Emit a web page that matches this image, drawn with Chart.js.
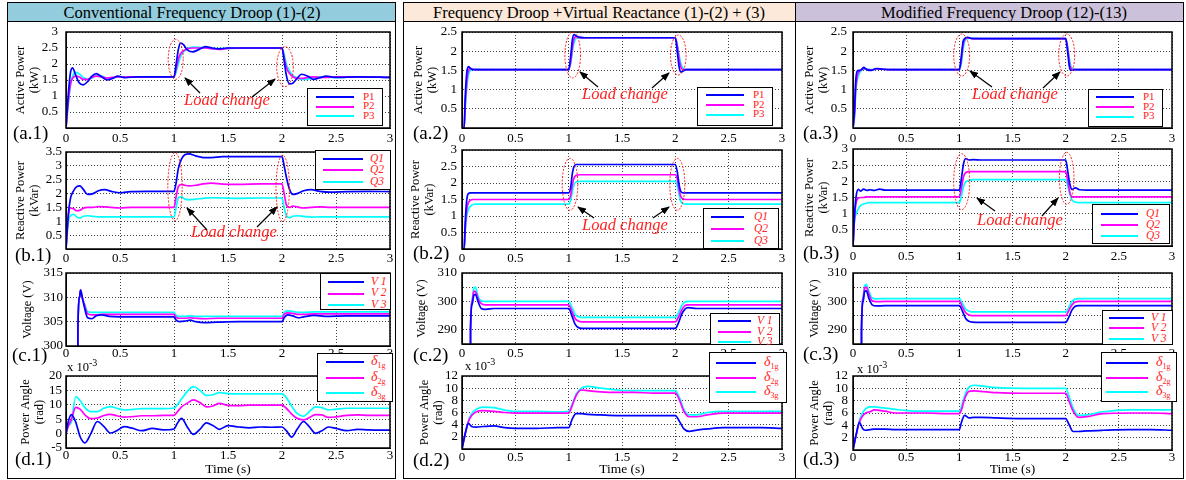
<!DOCTYPE html>
<html>
<head>
<meta charset="utf-8">
<script src="https://cdn.jsdelivr.net/npm/chart.js@4.4.1/dist/chart.umd.min.js"></script>
<style>
body { margin: 0; background: #fff; }
#page { position: relative; width: 1186px; height: 480px; overflow: hidden; font-family: "Liberation Serif", "Times New Roman", serif; color: #000; }
.frame { position: absolute; border: 1.5px solid #000; box-sizing: border-box; }
.head { position: absolute; border: 1.5px solid #000; box-sizing: border-box; }
.htxt { position: absolute; font-size: 16.5px; line-height: 1; white-space: nowrap; transform: translateX(-50%); }
.plab { position: absolute; font-size: 19px; line-height: 1; white-space: nowrap; z-index: 2; }
.legend { position: absolute; border: 1px solid #000; background: #fff; box-sizing: border-box; z-index: 3; }
.lline { position: absolute; height: 2px; }
.ltxt { position: absolute; color: #f22; line-height: 1; white-space: nowrap; }
.load { position: absolute; color: #f22; font-style: italic; font-size: 16.5px; line-height: 1; white-space: nowrap; z-index: 3; }
.exp { position: absolute; font-size: 12.5px; line-height: 1; white-space: nowrap; z-index: 3; }
canvas { position: absolute; z-index: 1; }
svg { position: absolute; left: 0; top: 0; z-index: 4; }
</style>
</head>
<body>
<div id="page"></div>
<script>
// tick values shared by every panel
const timeTicks = [0, 0.5, 1, 1.5, 2, 2.5, 3];
const timeLabels = ["0", "0.5", "1", "1.5", "2", "2.5", "3"];

// ---- column 1: conventional droop ----
const a1Time = [0, 0.02, 0.04, 0.06, 0.09, 0.12, 0.16, 0.2, 0.24, 0.28, 0.33, 0.38, 0.43, 0.48, 0.55, 0.65, 0.8, 1.0, 1.02, 1.04, 1.06, 1.09, 1.12, 1.17, 1.23, 1.29, 1.35, 1.42, 1.5, 1.7, 2.0, 2.02, 2.04, 2.07, 2.1, 2.14, 2.18, 2.24, 2.29, 2.35, 2.41, 2.5, 2.7, 3.0];
const a1P1 = [0, 1.0, 1.7, 1.88, 1.65, 1.42, 1.35, 1.45, 1.62, 1.70, 1.6, 1.5, 1.55, 1.62, 1.57, 1.6, 1.6, 1.6, 2.0, 2.45, 2.65, 2.6, 2.45, 2.38, 2.45, 2.54, 2.5, 2.47, 2.5, 2.5, 2.5, 2.1, 1.65, 1.38, 1.4, 1.55, 1.68, 1.62, 1.52, 1.57, 1.62, 1.58, 1.6, 1.58];
const a1P2 = [0, 0.8, 1.35, 1.55, 1.62, 1.6, 1.52, 1.52, 1.58, 1.62, 1.6, 1.56, 1.58, 1.6, 1.59, 1.6, 1.6, 1.6, 1.85, 2.15, 2.32, 2.42, 2.47, 2.5, 2.5, 2.5, 2.48, 2.46, 2.49, 2.5, 2.5, 2.2, 1.9, 1.7, 1.6, 1.55, 1.55, 1.58, 1.6, 1.58, 1.58, 1.6, 1.6, 1.58];
const a1P3 = [0, 0.7, 1.3, 1.6, 1.74, 1.7, 1.58, 1.52, 1.56, 1.64, 1.62, 1.56, 1.56, 1.6, 1.6, 1.6, 1.6, 1.6, 1.75, 2.0, 2.22, 2.38, 2.48, 2.53, 2.52, 2.5, 2.48, 2.48, 2.49, 2.5, 2.5, 2.3, 2.0, 1.78, 1.65, 1.56, 1.52, 1.53, 1.57, 1.6, 1.59, 1.58, 1.6, 1.58];
const a1Ticks = [0, 0.5, 1, 1.5, 2, 2.5, 3];
const a1Labels = ["", "0.5", "1", "1.5", "2", "2.5", "3"];

const b1Time = [0, 0.02, 0.04, 0.07, 0.1, 0.13, 0.16, 0.2, 0.25, 0.3, 0.36, 0.42, 0.5, 0.6, 0.75, 1.0, 1.02, 1.04, 1.07, 1.1, 1.14, 1.2, 1.27, 1.35, 1.45, 1.6, 1.8, 2.0, 2.02, 2.04, 2.07, 2.1, 2.14, 2.2, 2.27, 2.35, 2.45, 2.6, 2.8, 3.0];
const b1Q1 = [0, 1.2, 1.8, 2.1, 2.25, 2.28, 2.15, 1.97, 2.0, 2.1, 2.14, 2.08, 2.03, 2.07, 2.08, 2.08, 2.4, 2.9, 3.25, 3.4, 3.43, 3.36, 3.3, 3.3, 3.33, 3.33, 3.33, 3.33, 3.0, 2.6, 2.15, 1.97, 2.0, 2.1, 2.14, 2.08, 2.05, 2.07, 2.08, 2.07];
const b1Q2 = [0, 1.1, 1.48, 1.45, 1.38, 1.4, 1.47, 1.5, 1.5, 1.53, 1.52, 1.5, 1.48, 1.5, 1.5, 1.5, 1.9, 2.25, 2.33, 2.3, 2.28, 2.3, 2.35, 2.38, 2.34, 2.33, 2.35, 2.35, 2.0, 1.6, 1.5, 1.55, 1.52, 1.48, 1.5, 1.52, 1.5, 1.5, 1.5, 1.5];
const b1Q3 = [0, 0.9, 1.2, 1.25, 1.15, 1.12, 1.18, 1.2, 1.18, 1.16, 1.16, 1.16, 1.16, 1.16, 1.16, 1.16, 1.5, 1.85, 1.88, 1.8, 1.78, 1.8, 1.83, 1.85, 1.84, 1.83, 1.84, 1.84, 1.5, 1.2, 1.13, 1.18, 1.2, 1.18, 1.15, 1.16, 1.16, 1.16, 1.16, 1.16];
const b1Ticks = [0, 0.5, 1, 1.5, 2, 2.5, 3, 3.5];
const b1Labels = ["", "0.5", "1", "1.5", "2", "2.5", "3", "3.5"];

const c1Time = [0, 0.1, 0.11, 0.125, 0.135, 0.15, 0.17, 0.2, 0.24, 0.28, 0.33, 0.4, 0.5, 0.7, 1.0, 1.02, 1.05, 1.1, 1.15, 1.2, 1.28, 1.4, 1.6, 1.8, 2.0, 2.02, 2.05, 2.1, 2.15, 2.2, 2.3, 2.4, 2.6, 2.8, 3.0];
const c1V1 = [0, 0, 303, 310, 311.5, 310, 308, 305.8, 305.6, 306.2, 306.4, 306.1, 306, 306, 306, 305.3, 305, 305.1, 305.3, 305, 304.8, 304.9, 305, 305, 305, 305.8, 306.4, 306.2, 305.8, 306, 306.3, 306.1, 306.2, 306.2, 306.2];
const c1V2 = [0, 0, 303, 310, 311.5, 310, 308.5, 306.6, 306.4, 306.4, 306.5, 306.5, 306.5, 306.5, 306.5, 305.9, 305.7, 305.7, 305.8, 305.7, 305.6, 305.7, 305.7, 305.7, 305.7, 306.5, 306.8, 306.7, 306.5, 306.5, 306.6, 306.6, 306.6, 306.6, 306.6];
const c1V3 = [0, 0, 303, 310, 311.5, 310, 308.7, 307.1, 306.9, 306.9, 306.9, 306.9, 306.9, 306.9, 306.9, 306.3, 306.1, 306.1, 306.2, 306.1, 306.1, 306.1, 306.1, 306.1, 306.1, 306.9, 307.2, 307.1, 306.9, 306.9, 307, 307, 307, 307, 307];
const c1Ticks = [300, 305, 310, 315];
const c1Labels = ["300", "305", "310", "315"];

const d1Time = [0, 0.02, 0.05, 0.09, 0.13, 0.175, 0.23, 0.29, 0.35, 0.41, 0.47, 0.54, 0.62, 0.7, 0.8, 0.9, 1.0, 1.03, 1.07, 1.12, 1.18, 1.24, 1.3, 1.36, 1.42, 1.5, 1.6, 1.7, 1.8, 1.9, 2.0, 2.04, 2.09, 2.14, 2.2, 2.25, 2.31, 2.37, 2.43, 2.5, 2.6, 2.7, 2.8, 2.9, 3.0];
const d1D1 = [0, 4, 6.6, 4, -1, -3.2, 0, 4.2, 2.5, 0.2, 1, 2.4, 1.8, 1, 1.8, 1.3, 1.6, 3.5, 5.3, 2.5, -0.3, 1.5, 3.7, 2.8, 1.5, 2.8, 2.3, 2.0, 2.3, 2.2, 2.3, 1, -1.2, 1.5, 4.2, 2.5, 0.1, 1, 2.3, 1.8, 1, 1.5, 1.3, 1.2, 1.2];
const d1D2 = [0, 2.5, 5, 9.1, 8.5, 6.5, 5.2, 5.4, 6.3, 6.7, 6.2, 5.7, 5.9, 6.2, 6.2, 6.3, 6.3, 7.5, 9.3, 10.5, 11.7, 10.8, 9.3, 9.6, 10.5, 9.8, 9.7, 9.9, 9.9, 9.9, 9.9, 8.8, 6.8, 5.3, 4.8, 5.5, 6.6, 6.5, 5.6, 5.8, 6.3, 6.5, 6.3, 6.3, 6.3];
const d1D3 = [0, 2.5, 4, 12.8, 11.5, 9, 7.6, 7.6, 8.8, 9.4, 8.8, 8.2, 8.4, 8.7, 8.7, 8.7, 8.8, 10, 12, 14.5, 16.3, 15, 13.3, 13.5, 14.2, 13.9, 13.8, 13.8, 13.8, 13.8, 13.8, 12.5, 9.5, 7, 6, 7.5, 9.3, 9, 8.2, 8.5, 8.8, 8.8, 8.8, 8.8, 8.8];
const d1Ticks = [-5, 0, 5, 10, 15, 20];
const d1Labels = ["-5", "0", "5", "10", "15", "20"];

// ---- column 2: droop + virtual reactance ----
const a2Time = [0, 0.02, 0.03, 0.045, 0.06, 0.08, 0.1, 0.13, 0.2, 0.4, 0.7, 1.0, 1.02, 1.035, 1.05, 1.07, 1.1, 1.15, 1.3, 1.6, 2.0, 2.02, 2.035, 2.05, 2.07, 2.1, 2.15, 2.3, 2.6, 3.0];
const a2P1 = [0, 0, 0.8, 1.45, 1.6, 1.55, 1.52, 1.52, 1.52, 1.52, 1.52, 1.52, 1.9, 2.3, 2.43, 2.4, 2.36, 2.35, 2.35, 2.35, 2.35, 1.95, 1.6, 1.46, 1.48, 1.52, 1.52, 1.52, 1.52, 1.52];
const a2P2 = [0, 0, 0.6, 1.2, 1.5, 1.55, 1.53, 1.52, 1.52, 1.52, 1.52, 1.52, 1.75, 2.1, 2.32, 2.38, 2.36, 2.35, 2.35, 2.35, 2.35, 2.1, 1.8, 1.6, 1.52, 1.52, 1.52, 1.52, 1.52, 1.52];
const a2P3 = [0, 0, 0.5, 1.05, 1.38, 1.5, 1.53, 1.53, 1.52, 1.52, 1.52, 1.52, 1.7, 2.0, 2.22, 2.33, 2.36, 2.35, 2.35, 2.35, 2.35, 2.15, 1.9, 1.7, 1.56, 1.52, 1.52, 1.52, 1.52, 1.52];
const a2Ticks = [0, 0.5, 1, 1.5, 2, 2.5];
const a2Labels = ["", "0.5", "1", "1.5", "2", "2.5"];

const b2Time = [0, 0.02, 0.03, 0.045, 0.06, 0.08, 0.1, 0.13, 0.2, 0.5, 1.0, 1.02, 1.035, 1.05, 1.07, 1.1, 1.15, 1.3, 2.0, 2.02, 2.035, 2.05, 2.07, 2.1, 2.15, 2.3, 3.0];
const b2Q1 = [0, 0, 0.8, 1.5, 1.68, 1.7, 1.7, 1.7, 1.7, 1.7, 1.7, 1.9, 2.3, 2.5, 2.56, 2.56, 2.56, 2.56, 2.56, 2.3, 1.95, 1.75, 1.7, 1.7, 1.7, 1.7, 1.7];
const b2Q2 = [0, 0, 0.6, 1.2, 1.4, 1.48, 1.5, 1.5, 1.5, 1.5, 1.5, 1.65, 1.95, 2.15, 2.23, 2.25, 2.25, 2.25, 2.25, 2.1, 1.8, 1.6, 1.52, 1.5, 1.5, 1.5, 1.5];
const b2Q3 = [0, 0, 0.5, 1.0, 1.2, 1.3, 1.35, 1.36, 1.36, 1.36, 1.36, 1.5, 1.75, 1.95, 2.03, 2.05, 2.05, 2.05, 2.05, 1.9, 1.65, 1.45, 1.38, 1.36, 1.36, 1.36, 1.36];
const b2Ticks = [0, 0.5, 1, 1.5, 2, 2.5, 3];
const b2Labels = ["", "0.5", "1", "1.5", "2", "2.5", "3"];

const c2Time = [0, 0.07, 0.08, 0.095, 0.11, 0.125, 0.15, 0.18, 0.22, 0.3, 0.5, 1.0, 1.03, 1.06, 1.09, 1.12, 1.2, 1.5, 2.0, 2.03, 2.06, 2.09, 2.12, 2.2, 2.5, 3.0];
const c2V1 = [0, 0, 290, 299, 302, 302.5, 300, 297.5, 297.2, 297.5, 297.5, 297.5, 295, 292, 290.8, 290.5, 290.5, 290.5, 290.5, 292.5, 295.5, 297.3, 297.8, 297.5, 297.5, 297.5];
const c2V2 = [0, 0, 290, 300, 303.5, 303.5, 301, 299.2, 298.8, 298.8, 298.8, 298.8, 296.5, 294, 293.1, 292.8, 292.8, 292.8, 292.8, 294.5, 297, 298.5, 298.8, 298.8, 298.8, 298.8];
const c2V3 = [0, 0, 290, 300.5, 304.5, 305, 302, 300.2, 300, 300, 300, 300, 298, 295.5, 294.6, 294.4, 294.4, 294.4, 294.4, 296, 298.5, 299.8, 300, 300, 300, 300];
const c2Ticks = [285, 290, 295, 300, 305, 310];
const c2Labels = ["", "290", "", "300", "", "310"];

const d2Time = [0, 0.03, 0.06, 0.09, 0.13, 0.2, 0.3, 0.4, 0.5, 0.7, 0.9, 1.0, 1.03, 1.07, 1.12, 1.18, 1.3, 1.45, 1.6, 1.8, 2.0, 2.04, 2.08, 2.13, 2.2, 2.3, 2.45, 2.6, 2.8, 3.0];
const d2D1 = [0, 2.5, 4.2, 3.7, 3.6, 3.7, 3.8, 3.5, 3.4, 3.4, 3.5, 3.5, 4.8, 5.8, 5.8, 5.7, 5.6, 5.5, 5.5, 5.5, 5.5, 4.5, 3.3, 2.9, 3.1, 3.3, 3.5, 3.5, 3.5, 3.4];
const d2D2 = [0, 2.5, 4.5, 5.5, 6.1, 6.3, 6.2, 6.0, 5.9, 5.9, 5.9, 5.9, 7, 8.8, 9.7, 9.6, 9.4, 9.3, 9.3, 9.2, 9.2, 8, 6.2, 5.3, 5.3, 5.6, 5.9, 5.9, 5.9, 5.9];
const d2D3 = [0, 2.5, 4.6, 5.8, 6.5, 6.9, 6.8, 6.4, 6.2, 6.2, 6.1, 6.2, 7.2, 9.0, 10.0, 10.3, 10.0, 9.7, 9.6, 9.6, 9.6, 8.4, 6.5, 5.6, 5.6, 6.0, 6.2, 6.2, 6.2, 6.2];
const d2Ticks = [0, 2, 4, 6, 8, 10, 12];
const d2Labels = ["", "2", "4", "6", "8", "10", "12"];

// ---- column 3: modified droop ----
const a3Time = [0, 0.015, 0.025, 0.04, 0.06, 0.08, 0.1, 0.13, 0.17, 0.22, 0.28, 0.35, 0.5, 1.0, 1.02, 1.035, 1.05, 1.08, 1.12, 1.2, 1.5, 2.0, 2.02, 2.035, 2.05, 2.08, 2.12, 2.2, 2.5, 3.0];
const a3P1 = [0, 0.5, 1.2, 1.48, 1.5, 1.52, 1.58, 1.52, 1.5, 1.55, 1.53, 1.52, 1.52, 1.52, 1.9, 2.25, 2.33, 2.36, 2.33, 2.33, 2.33, 2.33, 1.95, 1.6, 1.5, 1.52, 1.52, 1.52, 1.52, 1.52];
const a3P2 = [0, 0.4, 1.0, 1.35, 1.48, 1.52, 1.55, 1.53, 1.51, 1.54, 1.53, 1.52, 1.52, 1.52, 1.8, 2.15, 2.3, 2.35, 2.33, 2.33, 2.33, 2.33, 2.05, 1.7, 1.55, 1.52, 1.52, 1.52, 1.52, 1.52];
const a3P3 = [0, 0.3, 0.9, 1.25, 1.42, 1.5, 1.53, 1.53, 1.52, 1.53, 1.53, 1.52, 1.52, 1.52, 1.7, 2.05, 2.25, 2.33, 2.34, 2.33, 2.33, 2.33, 2.1, 1.8, 1.6, 1.53, 1.52, 1.52, 1.52, 1.52];
const a3Ticks = [0, 0.5, 1, 1.5, 2, 2.5];
const a3Labels = ["", "0.5", "1", "1.5", "2", "2.5"];

const b3Time = [0, 0.015, 0.03, 0.05, 0.07, 0.1, 0.13, 0.16, 0.2, 0.25, 0.3, 0.4, 0.6, 1.0, 1.02, 1.04, 1.06, 1.09, 1.13, 1.2, 1.5, 2.0, 2.02, 2.04, 2.06, 2.09, 2.13, 2.2, 2.5, 3.0];
const b3Q1 = [0, 1.0, 1.55, 1.75, 1.7, 1.76, 1.72, 1.74, 1.72, 1.76, 1.73, 1.73, 1.73, 1.73, 2.1, 2.55, 2.7, 2.66, 2.67, 2.66, 2.66, 2.66, 2.3, 1.9, 1.75, 1.8, 1.74, 1.73, 1.73, 1.73];
const b3Q2 = [0, 0.9, 1.35, 1.48, 1.5, 1.5, 1.52, 1.52, 1.52, 1.52, 1.52, 1.52, 1.52, 1.52, 1.8, 2.15, 2.27, 2.3, 2.3, 2.3, 2.3, 2.3, 2.0, 1.65, 1.52, 1.52, 1.52, 1.52, 1.52, 1.52];
const b3Q3 = [0, 0.8, 1.0, 1.15, 1.25, 1.3, 1.33, 1.34, 1.34, 1.34, 1.34, 1.34, 1.34, 1.34, 1.55, 1.85, 1.98, 2.03, 2.05, 2.05, 2.05, 2.05, 1.85, 1.6, 1.42, 1.36, 1.34, 1.34, 1.34, 1.34];
const b3Ticks = [0, 0.5, 1, 1.5, 2, 2.5, 3];
const b3Labels = ["", "0.5", "1", "1.5", "2", "2.5", "3"];

const c3Time = [0, 0.07, 0.08, 0.095, 0.11, 0.125, 0.15, 0.18, 0.22, 0.3, 0.5, 1.0, 1.03, 1.06, 1.09, 1.12, 1.2, 1.5, 2.0, 2.03, 2.06, 2.09, 2.12, 2.2, 2.5, 3.0];
const c3V1 = [0, 0, 290, 300, 303.5, 303.7, 301, 298.8, 298.4, 298.5, 298.5, 298.5, 296.5, 294, 293, 292.7, 292.6, 292.6, 292.6, 294.5, 297, 298.3, 298.5, 298.5, 298.5, 298.5];
const c3V2 = [0, 0, 290, 301, 304.7, 305, 302.5, 300.2, 299.9, 300, 300, 300, 298, 296, 295.2, 295, 295, 295, 295, 296.8, 298.8, 299.8, 300, 300, 300, 300];
const c3V3 = [0, 0, 290, 301.5, 305.5, 306, 303.5, 301.2, 300.9, 301, 301, 301, 299.3, 297.3, 296.5, 296.3, 296.3, 296.3, 296.3, 298, 300, 300.8, 301, 301, 301, 301];
const c3Ticks = [285, 290, 295, 300, 305, 310];
const c3Labels = ["", "290", "", "300", "", "310"];

const d3Time = [0, 0.03, 0.06, 0.09, 0.12, 0.16, 0.2, 0.3, 0.4, 0.5, 0.7, 0.9, 1.0, 1.02, 1.05, 1.09, 1.14, 1.2, 1.35, 1.6, 1.8, 2.0, 2.03, 2.07, 2.12, 2.2, 2.35, 2.6, 2.8, 3.0];
const d3D1 = [0, 2.5, 4.5, 3.5, 3.2, 3.3, 3.4, 3.4, 3.3, 3.3, 3.3, 3.3, 3.3, 4.5, 5.6, 5.2, 5.3, 5.3, 5.2, 5.1, 5.1, 5.1, 4.2, 3.0, 3.0, 3.1, 3.2, 3.3, 3.3, 3.2];
const d3D2 = [0, 2.5, 4.5, 5.5, 6.0, 6.2, 6.5, 6.3, 6.0, 6.0, 6.0, 5.9, 5.9, 6.5, 8.3, 9.5, 9.6, 9.5, 9.3, 9.2, 9.2, 9.2, 8.0, 6.3, 5.3, 5.4, 5.9, 6.0, 6.0, 5.9];
const d3D3 = [0, 2.5, 4.8, 6.0, 6.7, 7.0, 7.0, 6.8, 6.6, 6.4, 6.3, 6.3, 6.3, 7.0, 8.8, 10.2, 10.5, 10.4, 10.1, 10.0, 10.0, 10.0, 8.8, 6.8, 5.6, 5.7, 6.2, 6.5, 6.5, 6.5];
const d3Ticks = [0, 2, 4, 6, 8, 10, 12];
const d3Labels = ["", "2", "4", "6", "8", "10", "12"];

const powerNames = ["P1", "P2", "P3"];
const reactiveNames = ["Q1", "Q2", "Q3"];
const voltageNames = ["V 1", "V 2", "V 3"];
const angleNames = ["1g", "2g", "3g"];

const COLORS = ["#0000ff", "#ff00ff", "#00ffff"];
const SERIF = '"Liberation Serif", "Times New Roman", serif';
const page = document.getElementById("page");

function addEl(cls, css, html) {
    const el = document.createElement("div");
    el.className = cls;
    el.style.cssText = css;
    if (html) el.innerHTML = html;
    page.appendChild(el);
    return el;
}

// column frames and headers
addEl("frame", "left:7px;top:2px;width:389px;height:477px");
addEl("frame", "left:403px;top:2px;width:393px;height:477px");
addEl("frame", "left:795px;top:2px;width:389px;height:477px");
addEl("head", "left:7px;top:2px;width:389px;height:20px;background:#93cddd");
addEl("head", "left:403px;top:2px;width:393px;height:20px;background:#fde9d9");
addEl("head", "left:795px;top:2px;width:389px;height:20px;background:#ccc1da");
addEl("htxt", "left:192px;top:4.5px", "Conventional Frequency Droop (1)-(2)");
addEl("htxt", "left:599px;top:4.5px", "Frequency Droop +Virtual Reactance (1)-(2) + (3)");
addEl("htxt", "left:1004px;top:4.5px", "Modified Frequency Droop (12)-(13)");

// frame around each plot area
const boxPlugin = {
    id: "box",
    afterDraw(chart) {
        const { ctx, chartArea: a } = chart;
        ctx.save();
        ctx.strokeStyle = "#000";
        ctx.lineWidth = 1.5;
        ctx.strokeRect(a.left, a.top, a.right - a.left, a.bottom - a.top);
        ctx.restore();
    }
};

function makePanel(p) {
    const padL = 62, padR = 10, padT = 8;
    const W = p.R - p.L + padL + padR;
    const H = p.B - p.T + padT + p.padB;
    const cv = document.createElement("canvas");
    cv.width = W;
    cv.height = H;
    cv.style.cssText = `left:${p.L - padL}px;top:${p.T - padT}px;width:${W}px;height:${H}px`;
    page.appendChild(cv);

    const lh = 14;
    const titlePad = p.tx - (p.L - padL) - lh / 2;
    const gridOpts = { color: "rgba(0,0,0,0.75)", lineWidth: 1, drawTicks: false };
    const borderOpts = { display: true, color: "#000", width: 1, dash: [1, 2] };
    const tickFont = { family: SERIF, size: 13 };

    new Chart(cv, {
        type: "line",
        data: {
            datasets: p.s.map((vals, i) => ({
                label: p.names[i],
                data: p.t.map((x, j) => ({ x: x, y: vals[j] })),
                borderColor: COLORS[i],
                borderWidth: 1.7,
                pointRadius: 0,
                fill: false,
                cubicInterpolationMode: "monotone"
            }))
        },
        options: {
            responsive: false,
            animation: false,
            devicePixelRatio: 1,
            layout: { padding: { left: 0, top: padT, right: padR, bottom: 0 } },
            plugins: { legend: { display: false }, tooltip: { enabled: false } },
            scales: {
                x: {
                    type: "linear",
                    min: timeTicks[0],
                    max: timeTicks[timeTicks.length - 1],
                    afterBuildTicks: s => { s.ticks = timeTicks.map(v => ({ value: v })); },
                    afterFit: s => { s.height = p.padB; s.paddingLeft = 0; s.paddingRight = 0; },
                    ticks: { callback: (v, i) => timeLabels[i], padding: p.xPad, color: "#000", font: tickFont, maxRotation: 0, autoSkip: false },
                    grid: gridOpts,
                    border: borderOpts,
                    title: p.xTitle
                        ? { display: true, text: "Time (s)", color: "#000", padding: { top: 0, bottom: 0.5 }, font: { family: SERIF, size: 13.5, lineHeight: 1.15 } }
                        : { display: false }
                },
                y: {
                    type: "linear",
                    min: p.yt[0],
                    max: p.yt[p.yt.length - 1],
                    afterBuildTicks: s => { s.ticks = p.yt.map(v => ({ value: v })); },
                    afterFit: s => { s.width = padL; s.paddingTop = 0; s.paddingBottom = 0; },
                    ticks: { callback: (v, i) => p.yl[i], padding: p.yPad, color: "#000", font: tickFont, autoSkip: false },
                    grid: gridOpts,
                    border: borderOpts,
                    title: { display: true, text: p.title, color: "#000", padding: { top: titlePad, bottom: 0 }, font: { family: SERIF, size: 12.5, lineHeight: 1.12 } }
                }
            }
        },
        plugins: [boxPlugin]
    });

    // legend box
    const lg = p.legend;
    const box = addEl("legend", `left:${lg.x}px;top:${lg.y}px;width:${lg.w}px;height:${lg.h}px`);
    lg.rows.forEach((ry, i) => {
        const ln = document.createElement("div");
        ln.className = "lline";
        ln.style.cssText = `left:${lg.l1}px;width:${lg.l2 - lg.l1}px;top:${ry - 1}px;background:${COLORS[i]}`;
        box.appendChild(ln);
        const tx = document.createElement("div");
        tx.className = "ltxt";
        tx.style.cssText = `left:${lg.lx}px;top:${ry - lg.fs * 0.55}px;font-size:${lg.fs}px;` + (lg.kind === "P" ? "" : "font-style:italic");
        if (lg.kind === "d") {
            tx.innerHTML = `δ<span style="font-size:8px;position:relative;top:3px;font-style:normal">${p.names[i]}</span>`;
        } else {
            tx.textContent = p.names[i];
        }
        box.appendChild(tx);
    });

    addEl("plab", `left:${p.lab[0]}px;top:${p.lab[1]}px`, p.labText);
}

const panels = [
    { L: 66, T: 32, R: 390, B: 128, t: a1Time, s: [a1P1, a1P2, a1P3], names: powerNames, yt: a1Ticks, yl: a1Labels, title: ["Active Power", "(kW)"], tx: 20.7, yPad: 8, xPad: 3, padB: 18,
      legend: { x: 307, y: 88, w: 76, h: 38, rows: [8, 17.5, 27], l1: 8, l2: 46, lx: 55, fs: 11, kind: "P" }, lab: [13, 123], labText: "(a.1)" },
    { L: 66, T: 152, R: 390, B: 249, t: b1Time, s: [b1Q1, b1Q2, b1Q3], names: reactiveNames, yt: b1Ticks, yl: b1Labels, title: ["Reactive Power", "(kVar)"], tx: 20.7, yPad: 4, xPad: 2, padB: 18,
      legend: { x: 315, y: 150, w: 76, h: 40, rows: [8, 19, 31], l1: 7, l2: 47, lx: 54, fs: 11.5, kind: "Q" }, lab: [15, 245], labText: "(b.1)" },
    { L: 66, T: 273, R: 390, B: 346, t: c1Time, s: [c1V1, c1V2, c1V3], names: voltageNames, yt: c1Ticks, yl: c1Labels, title: "Voltage (V)", tx: 28, yPad: 3, xPad: 0, padB: 18,
      legend: { x: 320, y: 273, w: 71, h: 37, rows: [8, 19.5, 31], l1: 7, l2: 43, lx: 50, fs: 11.5, kind: "V" }, lab: [12, 345], labText: "(c.1)" },
    { L: 66, T: 376, R: 390, B: 448, t: d1Time, s: [d1D1, d1D2, d1D3], names: angleNames, yt: d1Ticks, yl: d1Labels, title: ["Power Angle", "(rad)"], tx: 26, yPad: 4, xPad: 0, padB: 30, xTitle: true,
      legend: { x: 317, y: 353, w: 76, h: 49, rows: [8, 24, 39], l1: 8, l2: 46, lx: 53, fs: 14, kind: "d" }, lab: [15, 449], labText: "(d.1)" },

    { L: 462, T: 32, R: 782, B: 128, t: a2Time, s: [a2P1, a2P2, a2P3], names: powerNames, yt: a2Ticks, yl: a2Labels, title: ["Active Power", "(kW)"], tx: 418.3, yPad: 5, xPad: 3, padB: 18,
      legend: { x: 697, y: 87, w: 76, h: 39, rows: [7, 17, 26.5], l1: 8, l2: 46, lx: 55, fs: 11, kind: "P" }, lab: [413, 123], labText: "(a.2)" },
    { L: 462, T: 150, R: 782, B: 249, t: b2Time, s: [b2Q1, b2Q2, b2Q3], names: reactiveNames, yt: b2Ticks, yl: b2Labels, title: ["Reactive Power", "(kVar)"], tx: 416, yPad: 5, xPad: 2, padB: 18,
      legend: { x: 703, y: 208, w: 76, h: 41, rows: [8, 20, 32], l1: 7, l2: 40, lx: 50, fs: 11.5, kind: "Q" }, lab: [413, 243], labText: "(b.2)" },
    { L: 462, T: 273, R: 782, B: 344, t: c2Time, s: [c2V1, c2V2, c2V3], names: voltageNames, yt: c2Ticks, yl: c2Labels, title: "Voltage (V)", tx: 421.7, yPad: 5, xPad: 2, padB: 18,
      legend: { x: 710, y: 313, w: 70, h: 32, rows: [7, 18, 28], l1: 7, l2: 40, lx: 46, fs: 11.5, kind: "V" }, lab: [413, 345], labText: "(c.2)" },
    { L: 462, T: 376, R: 782, B: 449, t: d2Time, s: [d2D1, d2D2, d2D3], names: angleNames, yt: d2Ticks, yl: d2Labels, title: ["Power Angle", "(rad)"], tx: 425, yPad: 4, xPad: 1, padB: 29, xTitle: true,
      legend: { x: 709, y: 352, w: 78, h: 51, rows: [10, 25, 39], l1: 6, l2: 46, lx: 54, fs: 14, kind: "d" }, lab: [413, 450], labText: "(d.2)" },

    { L: 853, T: 32, R: 1172, B: 128, t: a3Time, s: [a3P1, a3P2, a3P3], names: powerNames, yt: a3Ticks, yl: a3Labels, title: ["Active Power", "(kW)"], tx: 809.3, yPad: 6, xPad: 3, padB: 18,
      legend: { x: 1088, y: 89, w: 75, h: 38, rows: [7, 17, 26.5], l1: 7, l2: 45, lx: 54, fs: 11, kind: "P" }, lab: [803, 123], labText: "(a.3)" },
    { L: 853, T: 149, R: 1172, B: 246, t: b3Time, s: [b3Q1, b3Q2, b3Q3], names: reactiveNames, yt: b3Ticks, yl: b3Labels, title: ["Reactive Power", "(kVar)"], tx: 809.3, yPad: 5, xPad: 3, padB: 18,
      legend: { x: 1092, y: 204, w: 78, h: 40, rows: [9, 20, 31], l1: 8, l2: 45, lx: 53, fs: 11.5, kind: "Q" }, lab: [803, 243], labText: "(b.3)" },
    { L: 853, T: 273, R: 1172, B: 344, t: c3Time, s: [c3V1, c3V2, c3V3], names: voltageNames, yt: c3Ticks, yl: c3Labels, title: "Voltage (V)", tx: 815, yPad: 6, xPad: 2, padB: 18,
      legend: { x: 1102, y: 310, w: 71, h: 35, rows: [7, 17, 28], l1: 6, l2: 41, lx: 48, fs: 11.5, kind: "V" }, lab: [803, 344], labText: "(c.3)" },
    { L: 853, T: 376, R: 1172, B: 450, t: d3Time, s: [d3D1, d3D2, d3D3], names: angleNames, yt: d3Ticks, yl: d3Labels, title: ["Power Angle", "(rad)"], tx: 815, yPad: 5, xPad: 0, padB: 28, xTitle: true,
      legend: { x: 1101, y: 352, w: 76, h: 50, rows: [10, 25, 39], l1: 4, l2: 46, lx: 54, fs: 14, kind: "d" }, lab: [803, 449], labText: "(d.3)" }
];

panels.forEach(makePanel);

// x 10^-3 multipliers
addEl("exp", "left:67px;top:361px", 'x 10<span style="position:relative;top:-5px;font-size:10px">-3</span>');
addEl("exp", "left:465px;top:360px", 'x 10<span style="position:relative;top:-5px;font-size:10px">-3</span>');
addEl("exp", "left:857px;top:363px", 'x 10<span style="position:relative;top:-5px;font-size:10px">-3</span>');

// "Load change" notes
[[184, 92], [191, 224], [582, 85.5], [582, 217], [972, 85.5], [977, 212]].forEach(([x, y]) => {
    addEl("load", `left:${x}px;top:${y}px`, "Load change");
});

// ellipses and arrows
const ellipses = [[175.7, 59.3, 7.5, 20], [285, 66.7, 8.3, 20], [175, 186.7, 7.2, 34], [282.7, 188.3, 6.7, 33],
    [572.7, 55, 7.8, 23], [678.3, 55, 7.8, 20], [570, 184.3, 7.8, 26], [677.3, 184.3, 7.5, 26],
    [961.7, 55, 8, 21], [1066.7, 55, 8, 21], [961.7, 181.7, 8, 28], [1066.7, 178.3, 7.3, 26]];
const arrows = [[200, 93, 185, 78], [252, 97, 275, 79], [207, 230, 187, 208], [257, 227, 277, 207],
    [598, 87, 580, 72], [652, 88, 669, 73], [594, 218, 578, 207], [653, 218, 669, 207],
    [992, 87, 970, 71], [1043, 88, 1060, 72], [995, 211, 977, 198], [1042, 216, 1058, 198]];

let svg = '<svg width="1186" height="480" xmlns="http://www.w3.org/2000/svg"><defs><marker id="ah" markerWidth="9" markerHeight="7" refX="8" refY="3.5" orient="auto" markerUnits="userSpaceOnUse"><path d="M0,0 L9,3.5 L0,7 z" fill="#000"/></marker></defs>';
ellipses.forEach(([cx, cy, rx, ry]) => {
    svg += `<ellipse cx="${cx}" cy="${cy}" rx="${rx}" ry="${ry}" fill="none" stroke="#ff1a1a" stroke-width="1" stroke-dasharray="2,1.5"/>`;
});
arrows.forEach(([x1, y1, x2, y2]) => {
    svg += `<line x1="${x1}" y1="${y1}" x2="${x2}" y2="${y2}" stroke="#000" stroke-width="1.2" marker-end="url(#ah)"/>`;
});
svg += "</svg>";
page.insertAdjacentHTML("beforeend", svg);
</script>
</body>
</html>
